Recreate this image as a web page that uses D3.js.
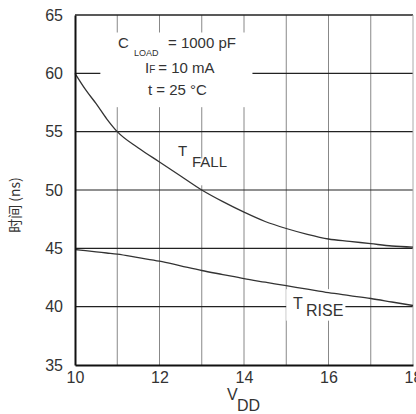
<!DOCTYPE html>
<html>
<head>
<meta charset="utf-8">
<script src="https://cdn.jsdelivr.net/npm/d3@7"></script>
<style>
  body { margin: 0; background: #fff; }
  svg { display: block; font-family: "Liberation Sans", Arial, sans-serif; }
</style>
</head>
<body>
<svg></svg>
<script>
const vdd = [10, 10.25, 10.5, 10.75, 11, 11.5, 12, 12.5, 13, 13.5, 14, 14.5, 15, 15.5, 16, 16.5, 17, 17.5, 18];
const tFall = [60, 58.6, 57.4, 56.1, 55.0, 53.6, 52.4, 51.2, 50.0, 49.0, 48.1, 47.3, 46.7, 46.2, 45.8, 45.6, 45.4, 45.2, 45.1];
const tRise = [44.9, 44.8, 44.7, 44.6, 44.5, 44.2, 43.9, 43.5, 43.1, 42.75, 42.4, 42.1, 41.8, 41.5, 41.2, 40.95, 40.7, 40.4, 40.1];
const xTicks = [10, 12, 14, 16, 18];
const yTicks = [35, 40, 45, 50, 55, 60, 65];
const xGrid = [11, 12, 13, 14, 15, 16, 17];
const yGrid = [40, 45, 50, 55, 60, 65];

const svgWidth = 416;
const svgHeight = 414;
const margin = { top: 15, right: 3, bottom: 49, left: 75 };
const width = svgWidth - margin.left - margin.right;
const height = svgHeight - margin.top - margin.bottom;
const ink = '#333';

const root = d3.select('svg')
    .attr('width', svgWidth)
    .attr('height', svgHeight);

const svg = root.append('g')
    .attr('transform', `translate(${margin.left}, ${margin.top})`);

const x = d3.scaleLinear().domain([10, 18]).range([0, width]);
const y = d3.scaleLinear().domain([35, 65]).range([height, 0]);

// grid
svg.selectAll('.vgrid')
    .data(xGrid)
    .enter().append('line')
    .attr('x1', d => x(d)).attr('x2', d => x(d))
    .attr('y1', 0).attr('y2', height)
    .attr('stroke', '#888')
    .attr('stroke-width', 1);

svg.selectAll('.hgrid')
    .data(yGrid)
    .enter().append('line')
    .attr('x1', 0).attr('x2', width)
    .attr('y1', d => y(d)).attr('y2', d => y(d))
    .attr('stroke', '#222')
    .attr('stroke-width', d => d === 65 ? 1.5 : 1.2);

// right border
svg.append('line')
    .attr('x1', width).attr('x2', width)
    .attr('y1', 0).attr('y2', height)
    .attr('stroke', '#aaa');

// white gaps behind labels
const gaps = [
    { x0: 10.6, x1: 14.2, y0: 63.5, y1: 57.1 },   // condition box
    { x0: 12.75, x1: 13.75, y0: 52.7, y1: 50.4 }, // FALL
    { x0: 15.0, x1: 16.4, y0: 41.5, y1: 38.8 }    // T RISE
];
svg.selectAll('.gap')
    .data(gaps)
    .enter().append('rect')
    .attr('x', d => x(d.x0))
    .attr('y', d => y(d.y0))
    .attr('width', d => x(d.x1) - x(d.x0))
    .attr('height', d => y(d.y1) - y(d.y0))
    .attr('fill', '#fff');

// curves
const line = d3.line()
    .x((d, i) => x(vdd[i]))
    .y(d => y(d))
    .curve(d3.curveMonotoneX);

[tFall, tRise].forEach(s => {
    svg.append('path')
        .attr('d', line(s))
        .attr('fill', 'none')
        .attr('stroke', '#333')
        .attr('stroke-width', 1.3);
});

// axes
const xAxis = svg.append('g')
    .attr('transform', `translate(0, ${height})`)
    .call(d3.axisBottom(x).tickValues(xTicks).tickSize(0).tickPadding(7).tickFormat(d3.format('d')));
xAxis.select('.domain').attr('stroke', '#111').attr('stroke-width', 2);
xAxis.selectAll('text').attr('font-size', '16px').attr('fill', ink)
    .attr('font-family', '"Liberation Sans", Arial, sans-serif');

const yAxis = svg.append('g')
    .call(d3.axisLeft(y).tickValues(yTicks).tickSize(0).tickPadding(12).tickFormat(d3.format('d')));
yAxis.select('.domain').attr('stroke', '#111').attr('stroke-width', 2);
yAxis.selectAll('text').attr('font-size', '16px').attr('fill', ink)
    .attr('font-family', '"Liberation Sans", Arial, sans-serif');

// labels
const txt = root.append('g').attr('fill', ink).attr('font-size', '15px');

const c = txt.append('text').attr('x', 118).attr('y', 48);
c.append('tspan').text('C');
c.append('tspan').attr('x', 134).attr('y', 56).attr('font-size', '9px').text('LOAD');
c.append('tspan').attr('x', 168).attr('y', 48).text('= 1000 pF');

const i = txt.append('text').attr('x', 145).attr('y', 73);
i.append('tspan').text('I');
i.append('tspan').attr('font-size', '10px').text('F');
i.append('tspan').attr('dx', 3).text('= 10 mA');

txt.append('text').attr('x', 148).attr('y', 95).text('t = 25 °C');

const tf = txt.append('text').attr('x', 178).attr('y', 156);
tf.append('tspan').text('T');
tf.append('tspan').attr('x', 192).attr('y', 167).text('FALL');

const tr = txt.append('text').attr('x', 293).attr('y', 309).attr('font-size', '16px');
tr.append('tspan').text('T');
tr.append('tspan').attr('x', 306).attr('y', 316).text('RISE');

const v = txt.append('text').attr('x', 227).attr('y', 400).attr('font-size', '16px');
v.append('tspan').text('V');
v.append('tspan').attr('x', 237).attr('y', 411).text('DD');

txt.append('text')
    .attr('transform', 'translate(20, 205) rotate(-90)')
    .attr('text-anchor', 'middle')
    .attr('font-size', '14px')
    .attr('font-family', '"Noto Sans CJK SC", sans-serif')
    .text('时间 (ns)');
</script>
</body>
</html>
